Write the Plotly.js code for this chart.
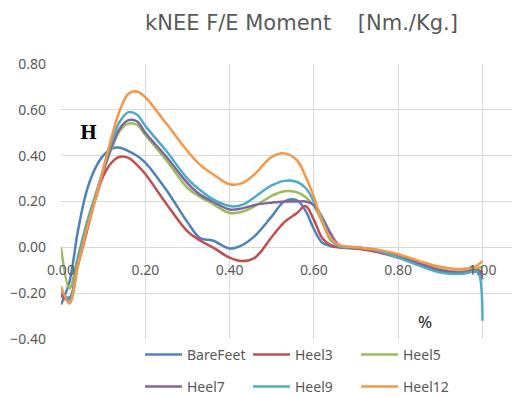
<!DOCTYPE html>
<html>
<head>
<meta charset="utf-8">
<script src="https://cdn.plot.ly/plotly-3.0.1.min.js"></script>
<style>html,body{margin:0;padding:0;background:#fff;}#chart{width:512px;height:397px;}</style>
</head>
<body>
<div id="chart"></div>
<script>
const pct = [0, 0.02, 0.04, 0.06, 0.08, 0.10, 0.12, 0.14, 0.16, 0.18, 0.20, 0.25, 0.30, 0.33, 0.36, 0.40, 0.43, 0.46, 0.50, 0.53, 0.56, 0.58, 0.60, 0.62, 0.64, 0.66, 0.70, 0.75, 0.80, 0.85, 0.90, 0.95, 0.98, 0.99, 1.00];

const bareFeet = [-0.25, -0.15, 0.07, 0.24, 0.34, 0.40, 0.43, 0.435, 0.42, 0.40, 0.37, 0.25, 0.11, 0.04, 0.03, -0.005, 0.01, 0.05, 0.135, 0.20, 0.205, 0.16, 0.08, 0.02, 0.005, 0.0, -0.005, -0.015, -0.04, -0.075, -0.105, -0.115, -0.105, -0.11, -0.14];
const heel3 = [-0.21, -0.23, -0.08, 0.06, 0.20, 0.31, 0.37, 0.395, 0.39, 0.36, 0.32, 0.19, 0.07, 0.03, 0.0, -0.045, -0.06, -0.045, 0.045, 0.11, 0.15, 0.18, 0.12, 0.04, 0.01, 0.0, -0.005, -0.02, -0.045, -0.075, -0.10, -0.11, -0.10, -0.10, -0.11];
const heel5 = [0.0, -0.18, -0.04, 0.10, 0.22, 0.33, 0.43, 0.51, 0.54, 0.535, 0.49, 0.38, 0.26, 0.22, 0.19, 0.15, 0.155, 0.18, 0.225, 0.245, 0.24, 0.22, 0.18, 0.11, 0.03, 0.005, 0.0, -0.01, -0.035, -0.065, -0.095, -0.105, -0.095, -0.09, -0.085];
const heel7 = [-0.20, -0.22, -0.06, 0.09, 0.21, 0.33, 0.44, 0.52, 0.555, 0.55, 0.50, 0.395, 0.28, 0.23, 0.20, 0.165, 0.17, 0.185, 0.195, 0.20, 0.20, 0.20, 0.185, 0.13, 0.06, 0.01, 0.0, -0.015, -0.04, -0.07, -0.10, -0.11, -0.10, -0.105, -0.13];
const heel9 = [-0.18, -0.23, -0.06, 0.09, 0.21, 0.34, 0.46, 0.55, 0.59, 0.58, 0.53, 0.42, 0.30, 0.25, 0.21, 0.18, 0.185, 0.22, 0.27, 0.29, 0.285, 0.26, 0.20, 0.12, 0.04, 0.005, 0.0, -0.015, -0.045, -0.08, -0.11, -0.115, -0.105, -0.11, -0.32];
const heel12 = [-0.17, -0.245, -0.08, 0.07, 0.20, 0.34, 0.48, 0.60, 0.67, 0.68, 0.655, 0.54, 0.42, 0.36, 0.32, 0.275, 0.28, 0.32, 0.395, 0.41, 0.38, 0.31, 0.22, 0.11, 0.04, 0.01, 0.0, -0.01, -0.03, -0.06, -0.085, -0.095, -0.085, -0.075, -0.06];

const seriesNames = ["BareFeet", "Heel3", "Heel5", "Heel7", "Heel9", "Heel12"];
const seriesValues = [bareFeet, heel3, heel5, heel7, heel9, heel12];
const seriesColors = ["#4F81BD", "#C0504D", "#9BBB59", "#8064A2", "#4BACC6", "#F79646"];
const xTicks = [0, 0.2, 0.4, 0.6, 0.8, 1.0];
const yTicks = [-0.4, -0.2, 0, 0.2, 0.4, 0.6, 0.8];

const traces = seriesNames.map((name, i) => ({
  type: "scatter",
  mode: "lines",
  name: name,
  x: pct,
  y: seriesValues[i],
  line: {color: seriesColors[i], width: 2.5, shape: "spline", smoothing: 1},
  legend: i < 3 ? "legend" : "legend2"
}));

const W = 512, H = 397;
const plotLeft = 61, plotTop = 64, plotBottom = 340;
const plotW = W - plotLeft, plotH = plotBottom - plotTop;
const gray = "#595959";
const legendCommon = {
  orientation: "h",
  xref: "container", yref: "container",
  xanchor: "left", yanchor: "middle",
  font: {family: "Noto Sans, sans-serif", size: 14, color: gray},
  itemwidth: 37,
  entrywidth: 56,
  entrywidthmode: "pixels",
  bgcolor: "rgba(0,0,0,0)",
  borderwidth: 0
};

const layout = {
  width: W, height: H,
  margin: {l: plotLeft, r: 0, t: plotTop, b: H - plotBottom, pad: 0},
  paper_bgcolor: "#ffffff",
  plot_bgcolor: "#ffffff",
  font: {family: "Noto Sans, sans-serif", size: 14, color: gray},
  title: {
    text: "kNEE F/E Moment\u00a0\u00a0\u00a0\u00a0[Nm./Kg.]",
    font: {family: "DejaVu Sans, sans-serif", size: 21, color: gray},
    x: 301.5 / W, xref: "container", xanchor: "center",
    y: 1 - 23 / H, yref: "container", yanchor: "middle"
  },
  xaxis: {
    range: [0, plotW / 421.5],
    tickvals: xTicks,
    tickformat: ".2f",
    showgrid: true, gridcolor: "#d9d9d9", gridwidth: 1,
    zeroline: false, showline: false,
    anchor: "free", position: 1 / 3,
    ticks: "", ticklabelstandoff: 13,
    tickfont: {family: "Noto Sans, sans-serif", size: 14, color: gray},
    fixedrange: true
  },
  yaxis: {
    range: [-0.4, 0.8],
    tickvals: yTicks,
    tickformat: ".2f",
    showgrid: true, gridcolor: "#d9d9d9", gridwidth: 1,
    zeroline: false, showline: false,
    ticks: "", ticklabelstandoff: 14,
    tickfont: {family: "Noto Sans, sans-serif", size: 14, color: gray},
    fixedrange: true
  },
  legend: Object.assign({}, legendCommon, {x: 140 / W, y: 1 - 355 / H}),
  legend2: Object.assign({}, legendCommon, {x: 140 / W, y: 1 - 387 / H}),
  annotations: [
    {text: "<b>H</b>", x: (88 - plotLeft) / plotW, y: (plotBottom - 133) / plotH, xref: "paper", yref: "paper",
     xanchor: "center", yanchor: "middle", showarrow: false,
     font: {family: "DejaVu Serif, serif", size: 18, color: "#000000"}},
    {text: "%", x: (425 - plotLeft) / plotW, y: (plotBottom - 322) / plotH, xref: "paper", yref: "paper",
     xanchor: "center", yanchor: "middle", showarrow: false,
     font: {family: "Noto Sans, sans-serif", size: 17, color: "#222222"}}
  ],
  showlegend: true
};

Plotly.newPlot("chart", traces, layout, {displayModeBar: false, staticPlot: true});
</script>
</body>
</html>
